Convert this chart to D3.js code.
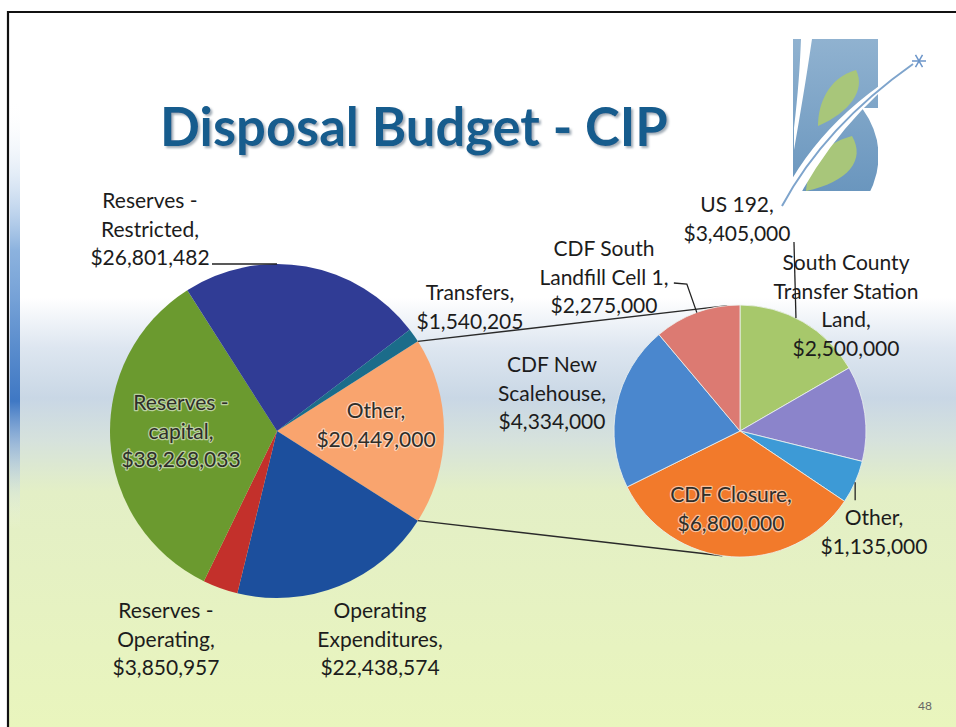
<!DOCTYPE html>
<html>
<head>
<meta charset="utf-8">
<script src="https://cdn.jsdelivr.net/npm/d3@7"></script>
<style>
  html, body { margin: 0; padding: 0; background: #fff; }
  svg { display: block; }
  text { font-family: Lato, "Open Sans", sans-serif; }
</style>
</head>
<body>
<div id="chart"></div>
<script>
// main pie, clockwise from the "Other" slice
const mainCategories = ["Other", "Operating Expenditures", "Reserves - Operating", "Reserves - capital", "Reserves - Restricted", "Transfers"];
const mainValues = [20449000, 22438574, 3850957, 38268033, 26801482, 1540205];
const mainLabelLines = [["Other,"], ["Operating", "Expenditures,"], ["Reserves -", "Operating,"], ["Reserves -", "capital,"], ["Reserves -", "Restricted,"], ["Transfers,"]];

// the "Other" slice broken out, clockwise from 12 o'clock
const subCategories = ["US 192", "South County Transfer Station Land", "Other", "CDF Closure", "CDF New Scalehouse", "CDF South Landfill Cell 1"];
const subValues = [3405000, 2500000, 1135000, 6800000, 4334000, 2275000];
const subLabelLines = [["US 192,"], ["South County", "Transfer Station", "Land,"], ["Other,"], ["CDF Closure,"], ["CDF New", "Scalehouse,"], ["CDF South", "Landfill Cell 1,"]];

const titleText = "Disposal Budget - CIP";
const pageNumber = "48";

const W = 956, H = 727;
const fmt = d3.format("$,");

const svg = d3.select("#chart").append("svg")
  .attr("width", W)
  .attr("height", H);

const defs = svg.append("defs");

// slide background
const bg = defs.append("linearGradient").attr("id", "bg")
  .attr("x1", 0).attr("y1", 0).attr("x2", 0).attr("y2", 1);
[[0, "#ffffff"], [0.40, "#ffffff"], [0.47, "#dde6f0"], [0.54, "#c9d7e5"], [0.60, "#d6e2dc"], [0.67, "#e3efc6"], [1, "#e9f5bd"]]
  .forEach(s => bg.append("stop").attr("offset", s[0]).attr("stop-color", s[1]));

const stripe = defs.append("linearGradient").attr("id", "stripe")
  .attr("x1", 0).attr("y1", 0).attr("x2", 0).attr("y2", 1);
[[0, "#ffffff", 0], [0.35, "#6f9fd6", 0.8], [0.7, "#3f78c4", 1], [1, "#ffffff", 0]]
  .forEach(s => stripe.append("stop").attr("offset", s[0]).attr("stop-color", s[1]).attr("stop-opacity", s[2]));

const logoGrad = defs.append("linearGradient").attr("id", "logoGrad")
  .attr("x1", 0).attr("y1", 0).attr("x2", 0).attr("y2", 1);
logoGrad.append("stop").attr("offset", 0).attr("stop-color", "#90b2d0");
logoGrad.append("stop").attr("offset", 1).attr("stop-color", "#6a96be");

const shadow = defs.append("filter").attr("id", "shadow")
  .attr("x", "-5%").attr("y", "-10%").attr("width", "110%").attr("height", "130%");
shadow.append("feDropShadow").attr("dx", 2).attr("dy", 2).attr("stdDeviation", 1.2)
  .attr("flood-color", "#7a8a99").attr("flood-opacity", 0.7);

svg.append("rect").attr("width", W).attr("height", H).attr("fill", "#fff");
svg.append("rect").attr("x", 8).attr("y", 12).attr("width", W - 8).attr("height", H - 12).attr("fill", "url(#bg)");
svg.append("rect").attr("x", 10).attr("y", 100).attr("width", 10).attr("height", 430).attr("fill", "url(#stripe)");
svg.append("path").attr("d", `M8,${H} V12 H${W}`).attr("fill", "none").attr("stroke", "#111").attr("stroke-width", 2.2);

// logo
const logo = svg.append("g");
logo.append("rect").attr("x", 793).attr("y", 39).attr("width", 85).attr("height", 152).attr("fill", "url(#logoGrad)");
logo.append("path").attr("d", "M812,39 C806,80 800,115 794,150 L794,128 C798,95 800,65 801,39 Z").attr("fill", "#fff");
logo.append("path").attr("d", "M856,70 C866,90 850,112 818,126 C818,104 828,78 856,70 Z").attr("fill", "#a8c67a");
logo.append("path").attr("d", "M852,136 C866,160 848,182 806,191 C808,165 822,144 852,136 Z").attr("fill", "#a8c67a");
logo.append("path").attr("d", "M775,212 Q815,120 915,63 Q836,122 792,210 Z").attr("fill", "#fff");
logo.append("path").attr("d", "M782,206 Q825,126 913,64").attr("fill", "none").attr("stroke", "#7ea4cc").attr("stroke-width", 2);
logo.append("path").attr("d", "M862,108 Q892,150 868,196 L878,196 L878,108 Z").attr("fill", "#fff");
[0, 60, 120].forEach(a => {
  const r = 7, t = a * Math.PI / 180;
  logo.append("line")
    .attr("x1", 919 - r * Math.cos(t)).attr("y1", 61 - r * Math.sin(t))
    .attr("x2", 919 + r * Math.cos(t)).attr("y2", 61 + r * Math.sin(t))
    .attr("stroke", "#6b95c9").attr("stroke-width", 1.5);
});

// title, sized to the slide's title box
const title = svg.append("text")
  .attr("x", 414).attr("y", 146)
  .attr("text-anchor", "middle")
  .attr("font-weight", 700)
  .attr("font-size", 48)
  .attr("fill", "#145b8d")
  .attr("filter", "url(#shadow)")
  .text(titleText);
const tw = title.node().getComputedTextLength();
title.attr("font-size", 48 * 508 / tw);

svg.append("text").attr("x", 925).attr("y", 710).attr("text-anchor", "middle")
  .attr("font-size", 12).attr("fill", "#666").text(pageNumber);

// geometry
const main = { cx: 277, cy: 431, r: 167 };
const sub = { cx: 740, cy: 431, r: 126 };
const pt = (c, a, k = 1) => [c.cx + c.r * k * Math.sin(a), c.cy - c.r * k * Math.cos(a)];

const mainColor = d3.scaleOrdinal().domain(mainCategories)
  .range(["#f9a46e", "#1c4f9d", "#c3302b", "#6b9a2f", "#303c95", "#1b6c8a"]);
const subColor = d3.scaleOrdinal().domain(subCategories)
  .range(["#a7c86b", "#8b84cb", "#3d9ad6", "#f27a2b", "#4a87ce", "#dc7a72"]);

const otherSpan = 2 * Math.PI * mainValues[0] / d3.sum(mainValues);
const a0 = Math.PI / 2 - otherSpan / 2;

const mainArcs = d3.pie().sort(null).value(d => d)
  .startAngle(a0).endAngle(a0 + 2 * Math.PI)(mainValues);
const subArcs = d3.pie().sort(null).value(d => d)
  .startAngle(0).endAngle(2 * Math.PI)(subValues);

const mainArc = d3.arc().innerRadius(0).outerRadius(main.r);
const subArc = d3.arc().innerRadius(0).outerRadius(sub.r);

// connector lines from "Other" to the breakdown pie
const otherArc = mainArcs[0];
const lines = svg.append("g").attr("stroke", "#2a2a2a").attr("stroke-width", 1.4).attr("fill", "none");
lines.append("path").attr("d", d3.line()([pt(main, otherArc.startAngle), pt(sub, -0.1)]));
lines.append("path").attr("d", d3.line()([pt(main, otherArc.endAngle), pt(sub, Math.PI + 0.14)]));

svg.append("g").attr("transform", `translate(${main.cx},${main.cy})`)
  .selectAll("path").data(mainArcs).join("path")
  .attr("d", mainArc)
  .attr("fill", (d, i) => mainColor(mainCategories[i]));

svg.append("g").attr("transform", `translate(${sub.cx},${sub.cy})`)
  .selectAll("path").data(subArcs).join("path")
  .attr("d", subArc)
  .attr("fill", (d, i) => subColor(subCategories[i]))
  .attr("stroke", "#eef2f0").attr("stroke-width", 0.8);

// leader lines
const lead = svg.append("g").attr("stroke", "#222").attr("stroke-width", 1.3).attr("fill", "none");
const restricted = mainArcs[mainCategories.indexOf("Reserves - Restricted")];
{
  const e = pt(main, 0);
  lead.append("path").attr("d", d3.line()([[e[0] - 65, e[1]], e]));
}
{
  const s = subArcs[subCategories.indexOf("CDF South Landfill Cell 1")];
  const e = pt(sub, (s.startAngle + s.endAngle) / 2);
  lead.append("path").attr("d", d3.line()([[e[0] - 23, 283], [e[0] - 10, 284], e]));
}
{
  const s = subArcs[subCategories.indexOf("US 192")];
  const e = pt(sub, s.startAngle + 0.44 * (s.endAngle - s.startAngle));
  lead.append("path").attr("d", d3.line()([[e[0] - 2, 242], e]));
}
{
  const s = subArcs[subCategories.indexOf("Other")];
  const e = pt(sub, (s.startAngle + s.endAngle) / 2);
  lead.append("path").attr("d", d3.line()([e, [e[0], e[1] + 18]]));
}

// data labels: x centre and first baseline
const mainLayout = {
  "Other": [376, 418, true],
  "Operating Expenditures": [380, 618],
  "Reserves - Operating": [166, 618],
  "Reserves - capital": [181, 410, true],
  "Reserves - Restricted": [150, 208],
  "Transfers": [470, 300]
};
const subLayout = {
  "US 192": [737, 212],
  "South County Transfer Station Land": [846, 270],
  "Other": [874, 525],
  "CDF Closure": [731, 502, true],
  "CDF New Scalehouse": [552, 372],
  "CDF South Landfill Cell 1": [604, 256]
};

function drawLabels(cats, vals, lines, layout) {
  cats.forEach((c, i) => {
    const [x, y, inside] = layout[c];
    const t = svg.append("text")
      .attr("x", x).attr("y", y)
      .attr("text-anchor", "middle")
      .attr("font-size", 21)
      .attr("fill", inside ? "#2e2e2a" : "#1c1c1c");
    if (inside) {
      t.attr("stroke", "rgba(255,255,255,0.55)").attr("stroke-width", 2.5)
        .attr("paint-order", "stroke").attr("stroke-linejoin", "round");
    }
    lines[i].concat([fmt(vals[i])]).forEach((ln, j) => {
      t.append("tspan").attr("x", x).attr("dy", j === 0 ? 0 : 28.6).text(ln);
    });
  });
}
drawLabels(mainCategories, mainValues, mainLabelLines, mainLayout);
drawLabels(subCategories, subValues, subLabelLines, subLayout);
</script>
</body>
</html>
